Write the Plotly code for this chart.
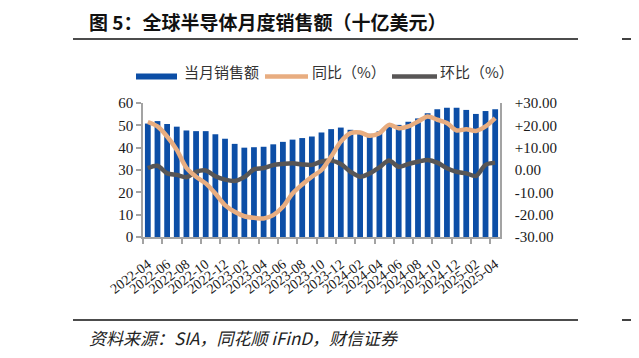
import plotly.graph_objects as go

# ---------------- data ----------------
months = ["2022-04", "2022-05", "2022-06", "2022-07", "2022-08", "2022-09", "2022-10",
          "2022-11", "2022-12", "2023-01", "2023-02", "2023-03", "2023-04", "2023-05",
          "2023-06", "2023-07", "2023-08", "2023-09", "2023-10", "2023-11", "2023-12",
          "2024-01", "2024-02", "2024-03", "2024-04", "2024-05", "2024-06", "2024-07",
          "2024-08", "2024-09", "2024-10", "2024-11", "2024-12", "2025-01", "2025-02",
          "2025-03", "2025-04"]

sales = [50.8, 51.9, 50.6, 49.4, 47.7, 47.4, 47.4, 46.0, 44.0, 41.7, 40.0, 40.2, 40.4,
         41.5, 42.6, 43.6, 44.3, 45.0, 46.8, 48.3, 49.0, 48.0, 46.4, 46.2, 47.3, 50.0,
         50.2, 51.6, 53.1, 55.4, 57.2, 57.9, 57.9, 56.9, 55.1, 56.4, 57.2]

yoy = [21.5, 19.5, 15.0, 9.0, 1.0, -3.0, -6.0, -10.5, -15.7, -18.7, -20.7, -21.4, -21.7,
       -20.2, -16.5, -10.5, -6.5, -3.0, 0.0, 6.0, 12.7, 16.5, 16.8, 15.3, 16.5, 20.2,
       18.7, 19.5, 21.7, 24.0, 22.5, 21.0, 17.7, 18.3, 17.5, 19.5, 23.2]

mom = [0.9, 1.9, -1.5, -2.2, -3.2, -0.8, -0.2, -2.8, -4.3, -4.9, -3.2, 0.3, 0.9, 2.2,
       2.7, 3.0, 2.5, 2.3, 3.8, 4.2, 2.7, -0.8, -3.0, -1.5, 1.2, 4.2, 1.5, 2.7, 3.7,
       4.5, 3.3, 0.8, -0.8, -1.5, -2.7, 2.3, 3.3]

left_ticks = [0, 10, 20, 30, 40, 50, 60]
right_ticks = [-30, -20, -10, 0, 10, 20, 30]
right_labels = ["-30.00", "-20.00", "-10.00", "0.00", "+10.00", "+20.00", "+30.00"]

series_names = ["当月销售额", "同比（%）", "环比（%）"]
title_text = "图 5：全球半导体月度销售额（十亿美元）"
source_text = "资料来源：SIA，同花顺 iFinD，财信证券"

# ---------------- style / layout ----------------
BLUE = "#0C4EA6"
ORANGE = "#E8AD80"
GRAY = "#585656"
AXIS = "#A3A3A3"
OFF = 8                      # browser default body margin
W, H = 639 - OFF, 358 - OFF
L, R, T, B = 143 - OFF, 139, 103 - OFF, 121
PW, PH = W - L - R, H - T - B
PLOT_L, PLOT_B = 143, 237    # plot-area corner in window pixels


def px(x):
    return (x - PLOT_L) / PW


def py(y):
    return (PLOT_B - y) / PH


CJK = "Noto Sans CJK SC"
SERIF = "Liberation Serif"

fig = go.Figure()
fig.add_trace(go.Bar(x=months, y=sales, name=series_names[0], marker_color=BLUE,
                     marker_line_width=0, yaxis="y"))
fig.add_trace(go.Scatter(x=months, y=mom, name=series_names[2], mode="lines",
                         line=dict(color=GRAY, width=4.5, shape="spline", smoothing=0.8),
                         yaxis="y2"))
fig.add_trace(go.Scatter(x=months, y=yoy, name=series_names[1], mode="lines",
                         line=dict(color=ORANGE, width=4.5, shape="spline", smoothing=0.8),
                         yaxis="y2"))

shapes = []
for yy in (39, 320):
    shapes.append(dict(type="line", xref="paper", yref="paper", x0=px(73), x1=px(578),
                       y0=py(yy), y1=py(yy), line=dict(color="#111111", width=1.6)))
    shapes.append(dict(type="line", xref="paper", yref="paper", x0=px(622), x1=px(645),
                       y0=py(yy), y1=py(yy), line=dict(color="#111111", width=1.6)))
shapes.append(dict(type="rect", xref="paper", yref="paper", x0=px(136), x1=px(177),
                   y0=py(79.5), y1=py(73.5), fillcolor=BLUE, line=dict(width=0)))
shapes.append(dict(type="line", xref="paper", yref="paper", x0=px(265), x1=px(308),
                   y0=py(76.5), y1=py(76.5), line=dict(color=ORANGE, width=4.5)))
shapes.append(dict(type="line", xref="paper", yref="paper", x0=px(392), x1=px(437),
                   y0=py(76.5), y1=py(76.5), line=dict(color=GRAY, width=4.5)))

annotations = [
    dict(text="<b>" + title_text + "</b>", xref="paper", yref="paper", x=px(87), y=py(22),
         xanchor="left", yanchor="middle", showarrow=False,
         font=dict(family=CJK, size=19, color="#111111")),
    dict(text="<b>图</b>", xref="paper", yref="paper", x=px(631), y=py(22),
         xanchor="left", yanchor="middle", showarrow=False,
         font=dict(family=CJK, size=19, color="#111111")),
    dict(text="<i>" + source_text + "</i>", xref="paper", yref="paper", x=px(87), y=py(337),
         xanchor="left", yanchor="middle", showarrow=False,
         font=dict(family=CJK, size=17, color="#222222")),
    dict(text=series_names[0], xref="paper", yref="paper", x=px(182), y=py(71),
         xanchor="left", yanchor="middle", showarrow=False,
         font=dict(family=CJK, size=15, color="#333333")),
    dict(text=series_names[1], xref="paper", yref="paper", x=px(310), y=py(71),
         xanchor="left", yanchor="middle", showarrow=False,
         font=dict(family=CJK, size=15, color="#333333")),
    dict(text=series_names[2], xref="paper", yref="paper", x=px(438), y=py(71),
         xanchor="left", yanchor="middle", showarrow=False,
         font=dict(family=CJK, size=15, color="#333333")),
]

fig.update_layout(
    width=W, height=H,
    margin=dict(l=L, r=R, t=T, b=B, pad=0, autoexpand=False),
    paper_bgcolor="white", plot_bgcolor="white",
    showlegend=False,
    bargap=0.4,
    shapes=shapes,
    annotations=annotations,
    xaxis=dict(type="category", range=[-0.5, len(months) - 0.5], tickmode="linear",
               tick0=0, dtick=2, tickson="boundaries", ticks="outside", ticklen=5,
               tickwidth=1.5, tickcolor=AXIS, showline=True, linecolor=AXIS, linewidth=1.5,
               showgrid=False, tickangle=-37, automargin=False, ticklabelstandoff=12,
               tickfont=dict(family=SERIF, size=14, color="#1a1a1a")),
    yaxis=dict(range=[0, 60], tickvals=left_ticks, ticks="outside", ticklen=5,
               tickwidth=1.5, tickcolor=AXIS, showline=True, linecolor=AXIS, linewidth=1.5,
               showgrid=False, zeroline=False, automargin=False,
               tickfont=dict(family=SERIF, size=15, color="#1a1a1a")),
    yaxis2=dict(range=[-30, 30], overlaying="y", side="right", tickvals=right_ticks,
                ticktext=right_labels, ticks="", showline=True, linecolor=AXIS,
                linewidth=1.5, showgrid=False, zeroline=False, ticklabelstandoff=10,
                automargin=False,
                tickfont=dict(family=SERIF, size=15, color="#1a1a1a")),
)

fig.write_html("out.html")
